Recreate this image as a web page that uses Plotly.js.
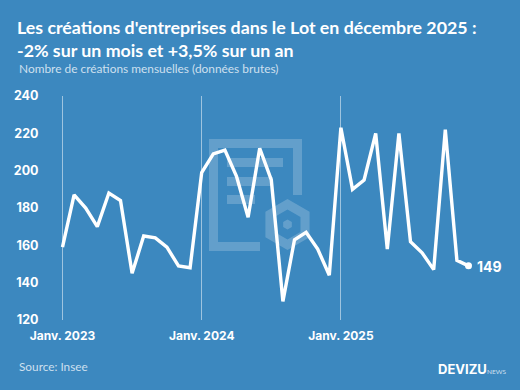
<!DOCTYPE html>
<html>
<head>
<meta charset="utf-8">
<script src="https://cdn.plot.ly/plotly-3.0.1.min.js"></script>
<style>html,body{margin:0;padding:0;background:#3c88bf}</style>
</head>
<body>
<div id="chart" style="width:520px;height:390px"></div>
<script>
var months = [
  "2023-01","2023-02","2023-03","2023-04","2023-05","2023-06","2023-07","2023-08","2023-09","2023-10","2023-11","2023-12",
  "2024-01","2024-02","2024-03","2024-04","2024-05","2024-06","2024-07","2024-08","2024-09","2024-10","2024-11","2024-12",
  "2025-01","2025-02","2025-03","2025-04","2025-05","2025-06","2025-07","2025-08","2025-09","2025-10","2025-11","2025-12"
];
var creations = [
  159,187,180,170,188,184,145,165,164,159,149,148,
  199,209,211,197,175,212,195,130,163,167,158,144,
  223,190,195,220,158,220,162,156,147,222,152,149
];
var xTickVals = ["2023-01","2024-01","2025-01"];
var xTickText = ["Janv. 2023","Janv. 2024","Janv. 2025"];
var yTickVals = [120,140,160,180,200,220,240];
var titleText = "Les créations d'entreprises dans le Lot en décembre 2025 :<br>-2% sur un mois et +3,5% sur un an";
var subtitleText = "Nombre de créations mensuelles (données brutes)";
var sourceText = "Source: Insee";

var W = 520, H = 390;
var M = {l:50, r:40, t:96, b:70};
var plotW = W - M.l - M.r, plotH = H - M.t - M.b;
function px(x){ return (x - M.l) / plotW; }
function py(y){ return (H - M.b - y) / plotH; }
function pathOf(points){
  return points.map(function(p,i){ return (i ? "L" : "M") + px(p[0]) + "," + py(p[1]); }).join(" ") + " Z";
}
function hexOf(cx, cy, r){
  var pts = [];
  for (var i = 0; i < 6; i++) {
    var a = Math.PI / 3 * i - Math.PI / 2;
    pts.push([cx + r * Math.cos(a), cy + r * Math.sin(a)]);
  }
  return pathOf(pts);
}
var WM = "rgba(255,255,255,0.2)";
function wmShape(path, rule){
  var s = {type:"path", layer:"below", xref:"paper", yref:"paper", path:path, fillcolor:WM, line:{width:0}};
  if (rule) s.fillrule = rule;
  return s;
}

var shapes = [
  wmShape(pathOf([[209,139],[302,139],[302,195],[293,195],[293,148],[218,148],[218,242],[260,242],[260,251],[209,251]])),
  wmShape(pathOf([[227,158],[283,158],[283,167],[227,167]])),
  wmShape(pathOf([[227,177],[273,177],[273,186],[227,186]])),
  wmShape(pathOf([[227,195],[255,195],[255,204],[227,204]])),
  wmShape(hexOf(287.5,224.5,25.5) + " " + hexOf(287.5,224.5,15), "evenodd"),
  wmShape(hexOf(287.5,224.5,5))
];

function note(text, x, y, size, color, family, anchor){
  return {text:text, xref:"paper", yref:"paper", x:px(x), y:py(y), xanchor:anchor||"left", yanchor:"middle",
          showarrow:false, font:{size:size, color:color, family:family}};
}

var traces = [
  {x:months, y:creations, type:"scatter", mode:"lines", line:{color:"#ffffff", width:3.4, shape:"linear"}, hoverinfo:"skip", cliponaxis:false},
  {x:[months[months.length-1]], y:[creations[creations.length-1]], type:"scatter", mode:"markers", marker:{color:"#ffffff", size:7}, hoverinfo:"skip", cliponaxis:false}
];

var layout = {
  width:W, height:H, showlegend:false,
  paper_bgcolor:"#3c88bf", plot_bgcolor:"rgba(0,0,0,0)",
  margin:{l:M.l, r:M.r, t:M.t, b:M.b, pad:0},
  title:{text:titleText, x:17/W, xanchor:"left", xref:"container", y:1-34/H, yanchor:"top", yref:"container", automargin:false, pad:{t:0,b:0,l:0,r:0},
         font:{family:"Lato", size:17.8, color:"#ffffff", weight:700}},
  xaxis:{type:"category", categoryorder:"array", categoryarray:months, range:[(50-62.5)/11.6,(480-62.5)/11.6],
         tickmode:"array", tickvals:xTickVals, ticktext:xTickText, showgrid:true, gridcolor:"rgba(255,255,255,0.5)", gridwidth:1,
         zeroline:false, showline:false, ticks:"outside", ticklen:5, tickcolor:"rgba(0,0,0,0)",
         tickfont:{family:"Inter", size:12, color:"#ffffff", weight:700}},
  yaxis:{range:[120,240], tickmode:"array", tickvals:yTickVals, showgrid:false, zeroline:false, showline:false,
         ticks:"outside", ticklen:8, tickcolor:"rgba(0,0,0,0)",
         tickfont:{family:"Inter", size:12.5, color:"#ffffff", weight:700}},
  shapes:shapes,
  annotations:[
    note(subtitleText, 17, 68, 11.9, "rgba(255,255,255,0.75)", "Lato"),
    note(sourceText, 17, 366, 11.8, "rgba(255,255,255,0.75)", "Lato"),
    note("<b>149</b>", 475, 266, 14, "#ffffff", "Inter"),
    note("<b>DEVIZU</b>", 436, 369, 13, "#ffffff", "Inter"),
    note("NEWS", 485, 371, 6.5, "rgba(255,255,255,0.75)", "Lato")
  ]
};
Plotly.newPlot("chart", traces, layout, {displayModeBar:false, staticPlot:true});
</script>
</body>
</html>
